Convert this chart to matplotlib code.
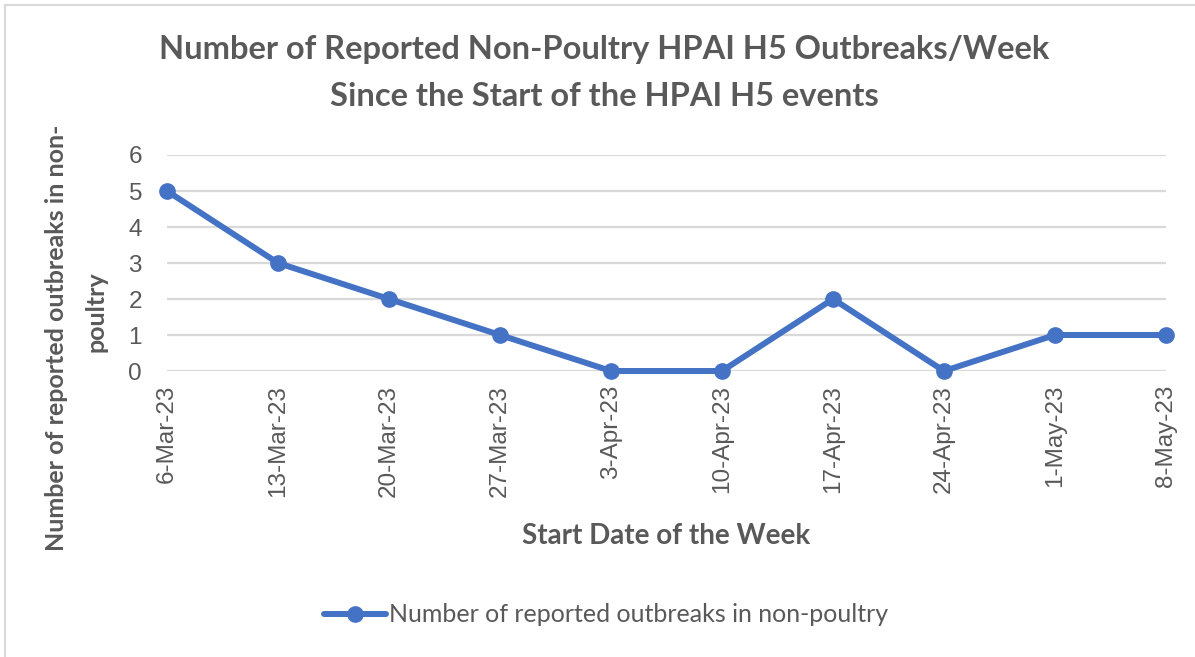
import matplotlib.pyplot as plt
from matplotlib.lines import Line2D

# data
weeks = ['6-Mar-23', '13-Mar-23', '20-Mar-23', '27-Mar-23', '3-Apr-23',
         '10-Apr-23', '17-Apr-23', '24-Apr-23', '1-May-23', '8-May-23']
outbreaks = [5, 3, 2, 1, 0, 0, 2, 0, 1, 1]
y_ticks = [0, 1, 2, 3, 4, 5, 6]

W, H = 1195, 657
GRAY = '#595959'
BLUE = '#4472C4'


def fx(px):
    return px / W


def fy(py):
    return 1 - py / H


fig = plt.figure(figsize=(W / 100, H / 100), dpi=100)

# frame of the chart area (only top/left edges visible in the screenshot)
fig.add_artist(Line2D([fx(5), 1], [fy(5), fy(5)], color='#d9d9d9', lw=1.5))
fig.add_artist(Line2D([fx(5), fx(5)], [fy(5), 0], color='#d9d9d9', lw=1.5))

ax = fig.add_axes([fx(167), fy(371), fx(1166) - fx(167), fy(155) - fy(371)])
x = list(range(len(weeks)))
ax.plot(x, outbreaks, color=BLUE, lw=4.3, marker='o', markersize=11,
        solid_capstyle='round', label='Number of reported outbreaks in non-poultry',
        clip_on=False, zorder=3)

ax.set_xlim(0, len(weeks) - 1)
ax.set_ylim(0, 6)
ax.set_yticks(y_ticks)
ax.set_xticks(x)
ax.set_xticklabels(weeks, rotation=90, family='Liberation Sans', fontsize=17.5, color=GRAY)
ax.set_yticklabels([str(v) for v in y_ticks], family='Liberation Sans', fontsize=17.5, color=GRAY)
ax.tick_params(axis='x', length=0, pad=10)
ax.tick_params(axis='y', length=0, pad=18)
ax.grid(axis='y', color='#d9d9d9', lw=1.6)
ax.set_axisbelow(True)
for s in ax.spines.values():
    s.set_visible(False)

fig.text(fx(604), fy(50), 'Number of Reported Non-Poultry HPAI H5 Outbreaks/Week',
         ha='center', va='center', family='Lato', weight='bold', fontsize=23.5, color=GRAY)
fig.text(fx(604), fy(97), 'Since the Start of the HPAI H5 events',
         ha='center', va='center', family='Lato', weight='bold', fontsize=23.5, color=GRAY)

fig.text(fx(666), fy(536), 'Start Date of the Week', ha='center', va='center',
         family='Lato', weight='bold', fontsize=20, color=GRAY)
fig.text(fx(57), fy(338), 'Number of reported outbreaks in non-', ha='center', va='center',
         rotation=90, family='Lato', weight='bold', fontsize=18, color=GRAY)
fig.text(fx(96), fy(312), 'poultry', ha='center', va='center',
         rotation=90, family='Lato', weight='bold', fontsize=18, color=GRAY)

leg = fig.legend(loc='center', bbox_to_anchor=(fx(606), fy(615)), frameon=False,
                 handlelength=2.5, handletextpad=0.12,
                 prop={'family': 'Lato', 'size': 18})
for t in leg.get_texts():
    t.set_color(GRAY)

fig.savefig('out.png', dpi=100)
